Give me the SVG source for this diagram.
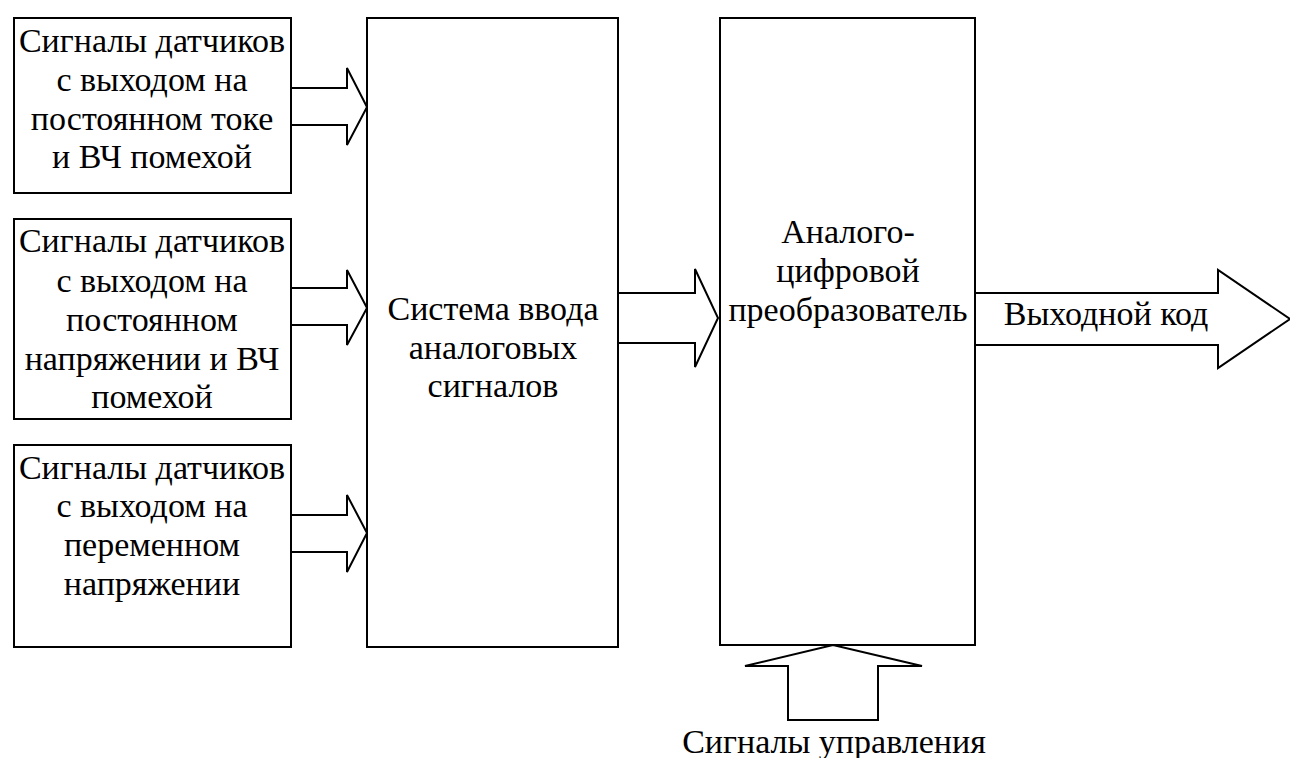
<svg xmlns="http://www.w3.org/2000/svg" width="1290" height="758" viewBox="0 0 1290 758">
<style>
.box{fill:#fff;stroke:#000;stroke-width:2}
.arr{fill:#fff;stroke:#000;stroke-width:2;stroke-linejoin:miter}
.t{font-family:'Liberation Serif','Times New Roman',serif;font-size:34px;fill:#000;text-anchor:middle}
</style>
<rect width="1290" height="758" fill="#fff"/>
<g id="connectors">
<path class="arr" d="M291,88 H347 V68 L367,107 L347,145 V125 H291"/>
<path class="arr" d="M291,288 H347 V270 L367,308 L347,345 V325 H291"/>
<path class="arr" d="M291,515 H347 V495 L367,533 L347,572 V552 H291"/>
<path class="arr" d="M618,293 H695 V269 L718,318 L695,367 V343 H618"/>
<path class="arr" d="M975,293 H1218 V270 L1290,319 L1218,368 V345 H975"/>
<path class="arr" d="M788,720 V666 H745 L833,645 L922,666 H878 V720 Z"/>
</g>
<g class="t">
<g id="n1"><rect class="box" x="14" y="18" width="277" height="175"/>
<text x="152" y="52">Сигналы датчиков</text><text x="152" y="91">с выходом на</text><text x="152" y="130">постоянном токе</text><text x="152" y="168">и ВЧ помехой</text></g>
<g id="n2"><rect class="box" x="14" y="219" width="277" height="200"/>
<text x="152" y="252">Сигналы датчиков</text><text x="152" y="292">с выходом на</text><text x="152" y="331">постоянном</text><text x="152" y="370">напряжении и ВЧ</text><text x="152" y="408">помехой</text></g>
<g id="n3"><rect class="box" x="14" y="445" width="277" height="202"/>
<text x="152" y="479">Сигналы датчиков</text><text x="152" y="517">с выходом на</text><text x="152" y="556">переменном</text><text x="152" y="595">напряжении</text></g>
<g id="n4"><rect class="box" x="367" y="18" width="251" height="629"/>
<text x="493" y="320">Система ввода</text><text x="493" y="359">аналоговых</text><text x="493" y="397">сигналов</text></g>
<g id="n5"><rect class="box" x="720" y="18" width="255" height="627"/>
<text x="848" y="243">Аналого-</text><text x="848" y="282">цифровой</text><text x="848" y="321">преобразователь</text></g>
<g id="n6"><text x="1106" y="325">Выходной код</text></g>
<g id="n7"><text x="834" y="753">Сигналы управления</text></g>
</g>
</svg>
